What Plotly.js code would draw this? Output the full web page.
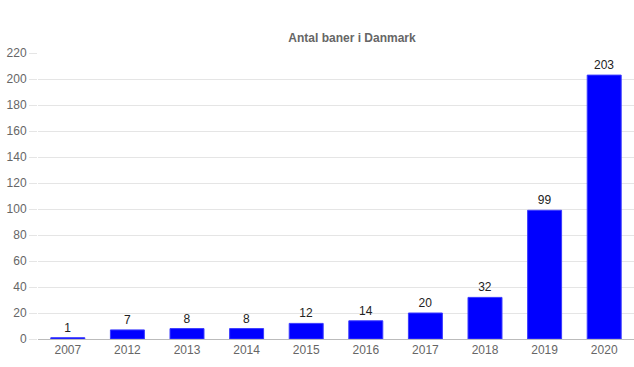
<!DOCTYPE html>
<html><head><meta charset="utf-8">
<script src="https://cdn.plot.ly/plotly-3.0.1.min.js"></script>
<style>html,body{margin:0;padding:0;background:#fff}#chart{width:634px;height:367px}</style>
</head><body><div id="chart"></div>
<script>
const years = ['2007','2012','2013','2014','2015','2016','2017','2018','2019','2020'];
const counts = [1, 7, 8, 8, 12, 14, 20, 32, 99, 203];
const yTicks = [0,20,40,60,80,100,120,140,160,180,200,220];

Plotly.newPlot('chart', [{
  type: 'bar',
  x: years,
  y: counts,
  text: counts.map(String),
  textposition: 'outside',
  cliponaxis: false,
  textfont: {family: 'Liberation Sans, Arial, sans-serif', size: 12, color: '#222'},
  marker: {color: '#0000ff', line: {color: '#3b3bff', width: 1}},
  width: 0.57,
  hoverinfo: 'x+y'
}], {
  width: 634, height: 367,
  margin: {l: 38, r: 0, t: 53, b: 28},
  paper_bgcolor: '#fff', plot_bgcolor: '#fff',
  font: {family: 'Liberation Sans, Arial, sans-serif', size: 12, color: '#666'},
  title: {text: '<b>Antal baner i Danmark</b>', font: {size: 12, color: '#666'}, xref: 'container', x: 352/634, xanchor: 'center', yref: 'container', y: 1 - 38/367, yanchor: 'middle'},
  showlegend: false,
  bargap: 0.43,
  xaxis: {
    type: 'category', showgrid: false, showline: true, linecolor: '#bbb', linewidth: 1,
    ticks: '', tickfont: {size: 12, color: '#666'}, automargin: false
  },
  yaxis: {
    range: [0, 220], tickvals: yTicks, showgrid: true, gridcolor: '#e5e5e5', gridwidth: 1,
    zeroline: false, ticks: 'outside', ticklen: 8, tickcolor: '#e5e5e5',
    tickfont: {size: 12, color: '#666'}, automargin: false
  }
}, {displayModeBar: false, staticPlot: true});
</script></body></html>
